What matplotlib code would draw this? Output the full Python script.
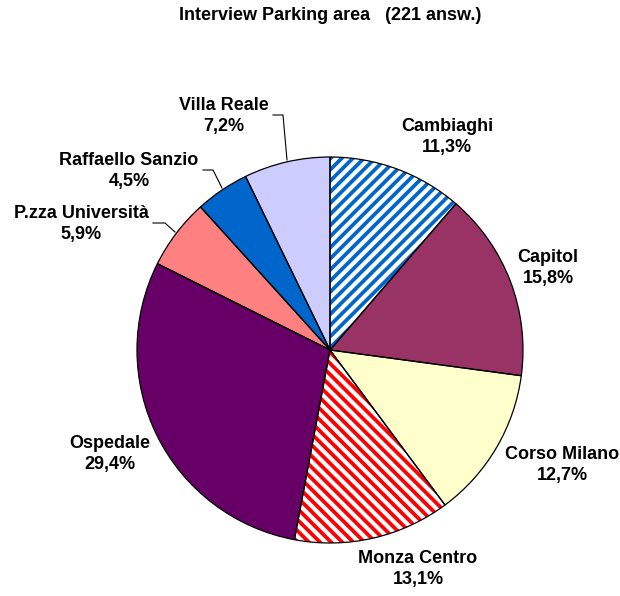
import matplotlib
matplotlib.use("Agg")
import matplotlib.pyplot as plt

# slice data, clockwise from 12 o'clock
areas = ["Cambiaghi", "Capitol", "Corso Milano", "Monza Centro", "Ospedale",
         "P.zza Università", "Raffaello Sanzio", "Villa Reale"]
shares = [11.3, 15.8, 12.7, 13.1, 29.4, 5.9, 4.5, 7.2]
face_colors = ["#FFFFFF", "#993366", "#FFFFCC", "#FFFFFF", "#660066",
               "#FF8080", "#0066CC", "#CCCCFF"]
hatch_colors = ["#0066CC", None, None, "#FF0000", None, None, None, None]
hatches = ["///", None, None, "\\\\\\", None, None, None, None]

# label centres (pixel coords, y from top)
label_pos = [(447, 137), (548, 268), (562, 465), (418, 569), (110, 454),
             (81, 224), (129, 171), (224, 116)]
# leader lines for the small slices (pixel coords)
leaders = {
    "P.zza Università": [(175, 232), (165, 223), (153, 223)],
    "Raffaello Sanzio": [(222, 188), (213, 170), (203, 170)],
    "Villa Reale": [(287, 160), (283, 115), (273, 115)],
}

W, H = 620, 596
plt.rcParams["hatch.linewidth"] = 2.7
plt.rcParams["font.family"] = ["Liberation Sans", "DejaVu Sans"]

fig = plt.figure(figsize=(W / 100, H / 100), dpi=100)
ax = fig.add_axes([0, 0, 1, 1])

center = (330, H - 350)
radius = 193

# fill + hatch layer
wedges, _ = ax.pie(shares, startangle=90, counterclock=False, center=center,
                   radius=radius, colors=face_colors, frame=True,
                   wedgeprops=dict(linewidth=0))
for w, hc, h in zip(wedges, hatch_colors, hatches):
    if h:
        w.set_hatch(h)
        w.set_edgecolor(hc)

# outline layer
ax.pie(shares, startangle=90, counterclock=False, center=center,
       radius=radius, frame=True,
       wedgeprops=dict(facecolor="none", edgecolor="black", linewidth=0.9))

for name, val, (px, py) in zip(areas, shares, label_pos):
    txt = f"{name}\n" + f"{val:.1f}".replace(".", ",") + "%"
    ax.text(px, H - py, txt, ha="center", va="center", fontsize=13,
            fontweight="bold", linespacing=1.25)

for name, pts in leaders.items():
    xs = [p[0] for p in pts]
    ys = [H - p[1] for p in pts]
    ax.plot(xs, ys, color="black", linewidth=0.8)

ax.text(330, H - 16, "Interview Parking area   (221 answ.)", ha="center", va="center",
        fontsize=13, fontweight="bold")

ax.set_xlim(0, W)
ax.set_ylim(0, H)
ax.set_aspect("equal")
ax.axis("off")

fig.savefig("out.png", dpi=100)
